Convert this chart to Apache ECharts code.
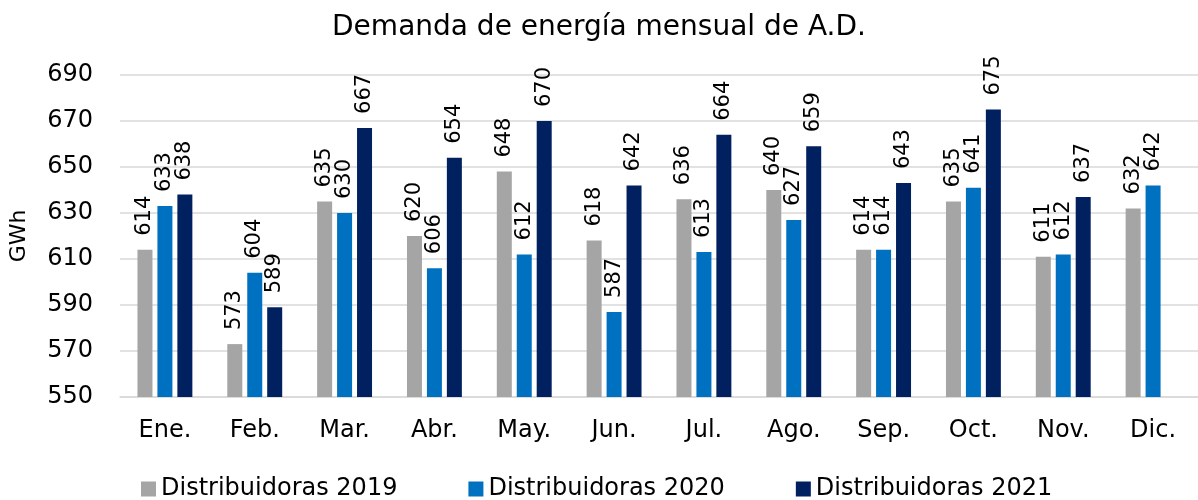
<!DOCTYPE html>
<html lang="es">
<head>
  <meta charset="UTF-8">
  <title>Demanda de energía mensual de A.D.</title>
  <style>
    html, body { margin: 0; padding: 0; background: #fff; }
    #myEcharts { width: 1198px; height: 500px; }
  </style>
  <script src="https://cdn.jsdelivr.net/npm/echarts@6/dist/echarts.min.js"></script>
</head>
<body>
  <div id="myEcharts"></div>
  <script>
    var meses = ['Ene.', 'Feb.', 'Mar.', 'Abr.', 'May.', 'Jun.', 'Jul.', 'Ago.', 'Sep.', 'Oct.', 'Nov.', 'Dic.'];
    var dist2019 = [614, 573, 635, 620, 648, 618, 636, 640, 614, 635, 611, 632];
    var dist2020 = [633, 604, 630, 606, 612, 587, 613, 627, 614, 641, 612, 642];
    var dist2021 = [638, 589, 667, 654, 670, 642, 664, 659, 643, 675, 637, null];

    var fuente = '"DejaVu Sans", sans-serif';
    var myChart = echarts.init(document.getElementById('myEcharts'));

    function serie(nombre, datos, color) {
      return {
        name: nombre,
        type: 'bar',
        data: datos,
        barWidth: 15,
        barGap: '33%',
        itemStyle: { color: color },
        label: {
          show: true,
          position: 'top',
          rotate: 90,
          align: 'left',
          verticalAlign: 'middle',
          distance: 14,
          fontFamily: fuente,
          fontSize: 21,
          color: '#000'
        }
      };
    }

    var option = {
      animation: false,
      title: {
        text: 'Demanda de energía mensual de A.D.',
        left: 'center',
        top: 9,
        textStyle: { fontFamily: fuente, fontSize: 28, fontWeight: 'normal', color: '#000' }
      },
      legend: {
        bottom: -6,
        left: 136,
        itemWidth: 15,
        itemHeight: 15,
        itemGap: 71,
        itemTextGap: 7,
        icon: 'rect',
        textStyle: { fontFamily: fuente, fontSize: 24, color: '#000' },
        data: ['Distribuidoras 2019', 'Distribuidoras 2020', 'Distribuidoras 2021']
      },
      grid: { left: 120, right: -2, top: 75, bottom: 103 },
      xAxis: {
        type: 'category',
        data: meses,
        axisTick: { show: false },
        axisLine: { lineStyle: { color: '#d9d9d9', width: 1.5 } },
        axisLabel: { fontFamily: fuente, fontSize: 24, color: '#000', margin: 22 }
      },
      yAxis: {
        type: 'value',
        min: 550,
        max: 690,
        interval: 20,
        name: 'GWh',
        nameLocation: 'middle',
        nameGap: 90,
        nameTextStyle: { fontFamily: fuente, fontSize: 22, color: '#000' },
        axisLabel: { fontFamily: fuente, fontSize: 24, color: '#000', margin: 27 },
        splitLine: { lineStyle: { color: '#d9d9d9', width: 1.5 } }
      },
      series: [
        serie('Distribuidoras 2019', dist2019, '#a5a5a5'),
        serie('Distribuidoras 2020', dist2020, '#0070c0'),
        serie('Distribuidoras 2021', dist2021, '#002060')
      ]
    };
    myChart.setOption(option);
  </script>
</body>
</html>
